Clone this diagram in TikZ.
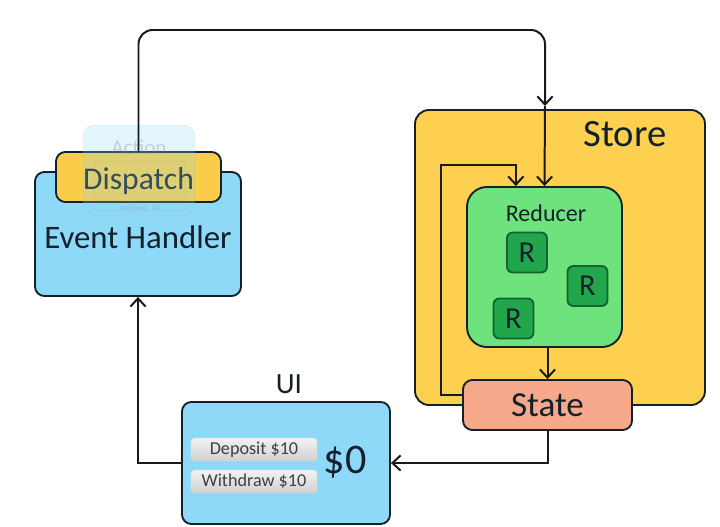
\documentclass[tikz,border=0pt]{standalone}
\usepackage{fontspec}
\setmainfont{Carlito}
\usetikzlibrary{positioning,arrows.meta}
\definecolor{skyblue}{HTML}{8ED8F8}
\definecolor{dispyellow}{HTML}{F9CD4A}
\definecolor{storeyellow}{HTML}{FDD14F}
\definecolor{redgreen}{HTML}{6DE27D}
\definecolor{rgreen}{HTML}{22A64C}
\definecolor{rdark}{HTML}{17632F}
\definecolor{statesalmon}{HTML}{F5A98A}
\definecolor{inkdark}{HTML}{14202B}
\newcommand{\fsz}[1]{\fontsize{#1}{#1}\selectfont}

\begin{document}
\begin{tikzpicture}[x=0.03cm,y=-0.03cm]
\tikzstyle{box}=[rectangle, rounded corners=8, draw=inkdark, line width=1.6pt, inner sep=0pt, text=inkdark]
\tikzstyle{rbox}=[box, fill=rgreen, draw=rdark, minimum size=1.2cm, rounded corners=5, font=\fsz{26}]
\tikzstyle{button}=[rectangle, rounded corners=3, draw=black!15, top color=white!95!black, bottom color=black!18, minimum width=3.78cm, minimum height=0.69cm, inner sep=0pt, font=\fsz{15.5}, text=black!75]
\tikzstyle{connect}=[-{Straight Barb[length=7pt,width=13pt]}, line width=1.7pt, draw=black!90]
\useasboundingbox (0,0) rectangle (720,527);

% left side
\node[box, fill=skyblue, minimum width=6.18cm, minimum height=3.72cm] (handler) at (138,234) {};
\node[text=inkdark, font=\fsz{28}] (handlertext) at (138,237) {Event Handler};
\node[box, fill=dispyellow, minimum width=4.95cm, minimum height=1.5cm] (dispatch) at (138.5,177) {};
\node[text=inkdark, font=\fsz{27}] (dispatchtext) at (138.5,181) {Dispatch};
\node[rectangle, rounded corners=10, fill=skyblue, fill opacity=0.25, draw=black!40, draw opacity=0.25, minimum width=3.36cm, minimum height=2.7cm] (action) at (139,170) {};
\node[text=black!45, text opacity=0.35, font=\fsz{18}] (actiontext) at (139,147) {Action};
\node[rectangle, rounded corners=3, draw=black!50, draw opacity=0.3, minimum width=2.7cm, minimum height=1.5cm] (payloadbox) at (140,186) {};
\node[text=black!50, text opacity=0.3, font=\fsz{7}] (payload) at (140,208) {payload: 10};

% store
\node[box, fill=storeyellow, minimum width=8.7cm, minimum height=8.85cm, rounded corners=12] (store) at (560,257.5) {};
\node[text=inkdark, font=\fsz{33}] (storetext) at (625,134) {Store};
\node[box, fill=redgreen, minimum width=4.65cm, minimum height=4.8cm, rounded corners=17] (reducer) at (544.5,267) {};
\node[text=inkdark, font=\fsz{20.5}] (reducertext) at (546,213) {Reducer};
\node[rbox] (r_1) at (527,252.5) {R};
\node[rbox] (r_2) at (587.5,286) {R};
\node[rbox] (r_3) at (513.5,318.5) {R};
\node[box, fill=statesalmon, minimum width=5.07cm, minimum height=1.5cm, font=\fsz{30}] (state) at (547.5,405) {State};

% ui
\node[box, fill=skyblue, minimum width=6.24cm, minimum height=3.66cm] (ui) at (286,463) {};
\node[text=inkdark, font=\fsz{25}] (uitext) at (289,384) {UI};
\node[button] (deposit) at (254,449.5) {Deposit \$10};
\node[button] (withdraw) at (254,481.5) {Withdraw \$10};
\node[text=inkdark, font=\fsz{36}] (balance) at (345,462) {\$0};

% connectors
\coordinate (storein) at (545,106);
\coordinate (top) at (545,30);
\draw[connect, rounded corners=12] (dispatch.north) |- (top) -- (storein);
\draw[connect] (storein) -- (reducer.north);
\draw[connect] (reducer.south -| state.north) -- (state.north);
\draw[connect] ([yshift=0.3cm]state.west) -| (441,165) -| ([xshift=-0.86cm]reducer.north);
\draw[connect] (state.south) |- (ui.east);
\draw[connect] (ui.west) -| (handler.south);
\end{tikzpicture}
\end{document}
